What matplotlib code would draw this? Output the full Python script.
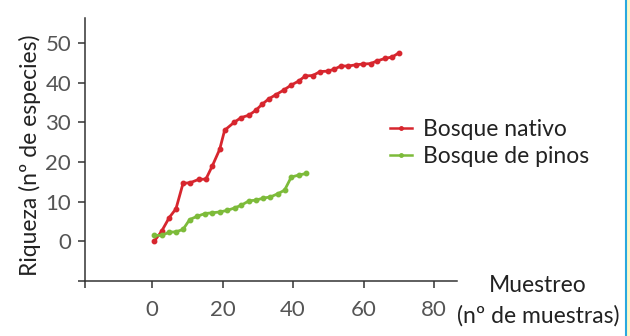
import matplotlib.pyplot as plt
from matplotlib.lines import Line2D
from matplotlib.patches import Rectangle

# Species accumulation data
nativo_x = [0.6, 2.7, 4.9, 6.8, 8.8, 10.9, 13.2, 15.3, 17.1, 19.2, 20.6, 23.3,
            25.3, 27.5, 29.4, 31.3, 33.1, 35.2, 37.3, 39.5, 41.6, 43.5, 45.6,
            47.7, 49.8, 51.7, 53.6, 55.7, 57.8, 59.9, 62.0, 63.9, 66.1, 68.2, 70.0]
nativo_y = [0, 2.5, 6, 8.2, 14.6, 14.8, 15.6, 15.7, 19, 23.2, 28, 30,
            31.2, 31.8, 33, 34.6, 35.9, 37, 38.1, 39.4, 40.4, 41.7, 41.8,
            42.8, 42.9, 43.4, 44.2, 44.2, 44.5, 44.7, 44.8, 45.5, 46.1, 46.5, 47.5]

pinos_x = [0.6, 2.7, 4.9, 6.8, 8.8, 10.7, 12.8, 15.0, 17.1, 19.2, 21.3,
           23.4, 25.3, 27.5, 29.5, 31.6, 33.6, 35.7, 37.6, 39.5, 41.6, 43.7]
pinos_y = [1.5, 1.5, 2.3, 2.4, 3, 5.5, 6.3, 7, 7.2, 7.4, 7.8,
           8.4, 9.1, 10.2, 10.4, 10.9, 11.2, 12, 12.9, 16.2, 16.7, 17.1]

xticks = [-19, 0, 20, 40, 60, 80]
xticklabels = ['', '0', '20', '40', '60', '80']
yticks = [-10, 0, 10, 20, 30, 40, 50]
yticklabels = ['', '0', '10', '20', '30', '40', '50']

plt.rcParams['font.family'] = ['Lato', 'DejaVu Sans']

fig = plt.figure(figsize=(6.3, 3.36), dpi=100)
ax = fig.add_axes([85 / 630, 1 - 281 / 336, (457 - 85) / 630, (281 - 18) / 336])

red = '#d7262e'
green = '#7dbb3a'
ax.plot(nativo_x, nativo_y, color=red, lw=2, marker='o', ms=3.2,
        label='Bosque nativo')
ax.plot(pinos_x, pinos_y, color=green, lw=2, marker='o', ms=3.2,
        label='Bosque de pinos')

ax.set_xlim(-19, 86.5)
ax.set_ylim(-10, 56.3)
ax.set_xticks(xticks)
ax.set_xticklabels(xticklabels)
ax.set_yticks(yticks)
ax.set_yticklabels(yticklabels)

for s in ['top', 'right']:
    ax.spines[s].set_visible(False)
for s in ['left', 'bottom']:
    ax.spines[s].set_color('#333333')
    ax.spines[s].set_linewidth(1.1)
ax.tick_params(direction='out', length=5, width=1.1, color='#333333',
               labelcolor='#555555', labelsize=16, pad=5)
ax.tick_params(axis='x', pad=9)

fig.text(30 / 630, 1 - 155 / 336, 'Riqueza (nº de especies)', rotation=90,
         ha='center', va='center', fontsize=16.5, color='#222222')
fig.text(538 / 630, 1 - 286 / 336, 'Muestreo', ha='center', va='center',
         fontsize=16.5, color='#222222')
fig.text(538 / 630, 1 - 316 / 336, '(nº de muestras)', ha='center', va='center',
         fontsize=16.5, color='#222222')

ax.legend(loc='center left', bbox_to_anchor=(390 / 630, 1 - 143 / 336),
          bbox_transform=fig.transFigure, frameon=False, fontsize=16.5,
          handlelength=0.95, handletextpad=0.5, labelspacing=0.3,
          borderpad=0, borderaxespad=0, labelcolor='#222222')
for h in ax.get_legend().legend_handles:
    h.set_markersize(2.5)
    h.set_linewidth(1.8)

# cyan page border on the right
fig.add_artist(Rectangle((627 / 630, 0), 3 / 630, 1, transform=fig.transFigure,
                         color='#fdf8c8', lw=0))
fig.add_artist(Line2D([626 / 630, 626 / 630], [0, 1], transform=fig.transFigure,
                      color='#29a8df', lw=1.5))

fig.savefig('out.png', dpi=100)
